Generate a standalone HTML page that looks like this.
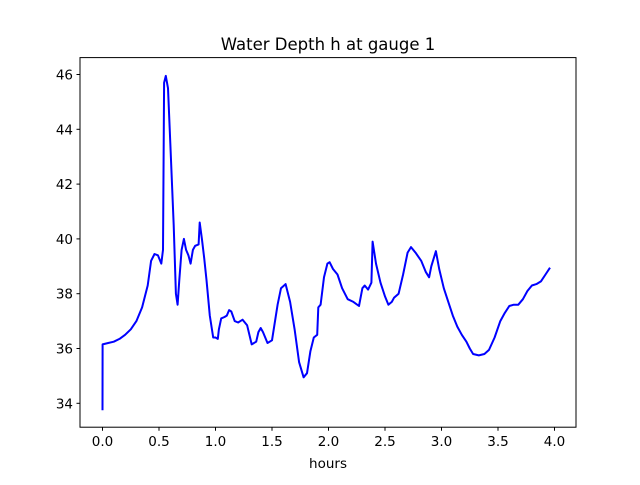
<!DOCTYPE html>
<html><head><meta charset="utf-8"><style>
body{margin:0;background:#fff;}
svg text{font-family:"DejaVu Sans","Liberation Sans",sans-serif;fill:#000;}
</style></head><body>
<svg id="chart" width="640" height="480">
<rect width="640" height="480" fill="#fff"/>
<text x="328" y="50" font-size="16.5" text-anchor="middle">Water Depth h at gauge 1</text>
<g id="ticks"></g>
<path id="line" fill="none" stroke="#0000ff" stroke-width="2" stroke-linejoin="round"/>
<rect x="80" y="57.6" width="496" height="369.6" fill="none" stroke="#000" stroke-width="1"/>
<text x="328" y="468" font-size="13.5" text-anchor="middle">hours</text>
</svg>
<script>
const times=[0,0.001,0.05,0.1,0.15,0.2,0.25,0.3,0.35,0.4,0.43,0.46,0.49,0.52,0.535,0.545,0.56,0.58,0.6,0.63,0.65,0.665,0.68,0.7,0.72,0.74,0.76,0.78,0.8,0.82,0.85,0.86,0.88,0.9,0.92,0.95,0.98,1.0,1.02,1.03,1.05,1.08,1.1,1.12,1.14,1.17,1.2,1.24,1.28,1.32,1.36,1.38,1.4,1.42,1.46,1.5,1.55,1.58,1.62,1.66,1.7,1.74,1.78,1.81,1.84,1.87,1.9,1.91,1.93,1.96,1.99,2.01,2.04,2.08,2.12,2.17,2.22,2.27,2.3,2.32,2.35,2.38,2.39,2.42,2.46,2.5,2.53,2.56,2.58,2.62,2.66,2.7,2.73,2.77,2.82,2.86,2.89,2.91,2.95,2.98,3.02,3.06,3.1,3.14,3.18,3.22,3.25,3.28,3.33,3.38,3.42,3.47,3.52,3.56,3.6,3.64,3.68,3.72,3.76,3.8,3.84,3.88,3.92,3.96,4.0];
const depths=[33.75,36.15,36.2,36.25,36.35,36.5,36.7,37.0,37.5,38.3,39.2,39.45,39.4,39.1,39.6,45.7,45.95,45.5,43.5,40.5,38.0,37.6,38.5,39.6,40.0,39.6,39.4,39.1,39.6,39.75,39.8,40.6,40.0,39.3,38.5,37.2,36.4,36.4,36.35,36.7,37.1,37.15,37.2,37.4,37.35,37.0,36.95,37.05,36.85,36.15,36.25,36.6,36.75,36.6,36.2,36.3,37.6,38.2,38.35,37.7,36.7,35.5,34.95,35.1,35.9,36.4,36.5,37.5,37.6,38.6,39.1,39.15,38.9,38.7,38.2,37.8,37.7,37.55,38.2,38.3,38.15,38.4,39.9,39.1,38.4,37.9,37.6,37.7,37.85,38.0,38.7,39.5,39.7,39.5,39.2,38.8,38.6,39.0,39.55,38.9,38.2,37.7,37.2,36.8,36.5,36.25,36.0,35.8,35.75,35.8,35.95,36.4,37.0,37.3,37.55,37.6,37.6,37.8,38.1,38.3,38.35,38.45,38.7,38.95];
const xTicks=[0,0.5,1,1.5,2,2.5,3,3.5,4];
const yTicks=[34,36,38,40,42,44,46];
const xs=v=>102.5+v*113;
const ys=v=>403.3-(v-34)*27.4;
const NS='http://www.w3.org/2000/svg';
const line=document.getElementById('line');
line.setAttribute('d',times.map((t,i)=>(i?'L':'M')+xs(t).toFixed(1)+' '+ys(depths[i]).toFixed(1)).join(' '));
const g=document.getElementById('ticks');
xTicks.forEach(v=>{
  const l=document.createElementNS(NS,'line');
  
  
  l.setAttribute('x1',xs(v));l.setAttribute('x2',xs(v));l.setAttribute('y1',427.2);l.setAttribute('y2',430.7);l.setAttribute('stroke','#000');
  g.appendChild(l);
  const t=document.createElementNS(NS,'text');
  
  
  t.setAttribute('x',xs(v));t.setAttribute('y',446);t.setAttribute('font-size','13.5');t.setAttribute('text-anchor','middle');
  t.textContent=v.toFixed(1);
  g.appendChild(t);
});
yTicks.forEach(v=>{
  const l=document.createElementNS(NS,'line');
  
  
  l.setAttribute('x1',76.5);l.setAttribute('x2',80);l.setAttribute('y1',ys(v));l.setAttribute('y2',ys(v));l.setAttribute('stroke','#000');
  g.appendChild(l);
  const t=document.createElementNS(NS,'text');
  
  
  t.setAttribute('x',73);t.setAttribute('y',ys(v)+5);t.setAttribute('font-size','13.5');t.setAttribute('text-anchor','end');
  t.textContent=v;
  g.appendChild(t);
});
</script>
</body></html>
